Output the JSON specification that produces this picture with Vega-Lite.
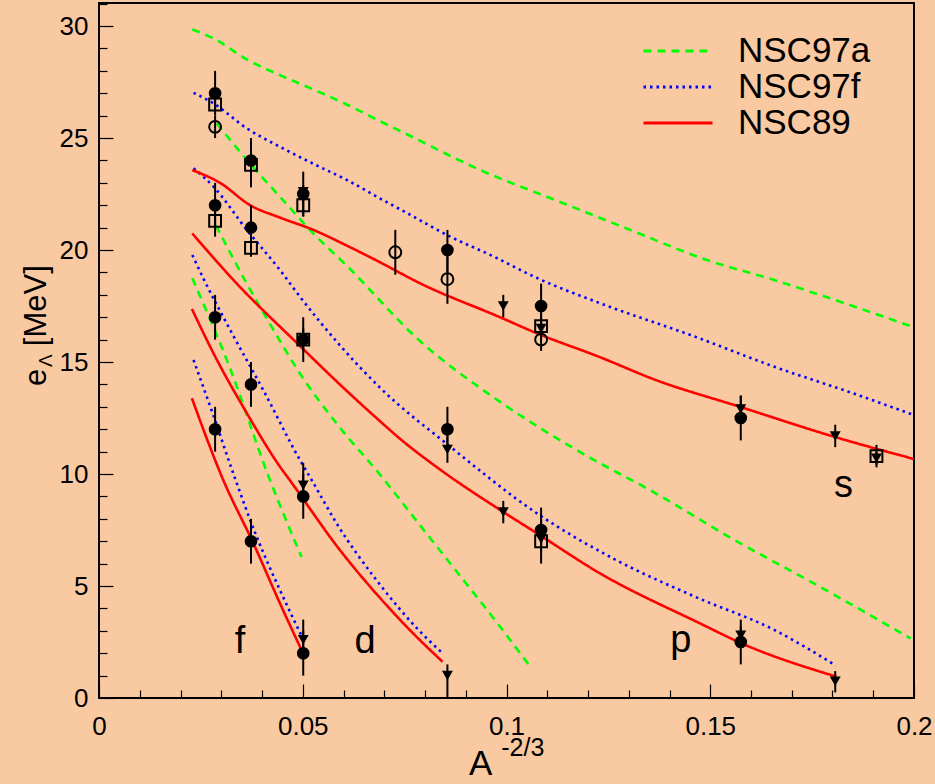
{
  "$schema": "https://vega.github.io/schema/vega-lite/v6.json",
  "width": 815,
  "height": 695,
  "autosize": {"type": "none"},
  "padding": {"left": 99, "top": 3, "right": 21, "bottom": 86},
  "background": "#F9C9A1",
  "config": {
    "view": {"stroke": "black", "strokeWidth": 2},
    "font": "Liberation Sans",
    "text": {"font": "Liberation Sans", "color": "black"}
  },
  "resolve": {"axis": {"x": "independent", "y": "independent"}, "scale": {"x": "shared", "y": "shared"}},
  "datasets": {
    "curves": [
      {"m":"NSC97a","c":"a-s","x":0.0229,"y":29.85},{"m":"NSC97a","c":"a-s","x":0.0281,"y":29.45},{"m":"NSC97a","c":"a-s","x":0.0363,"y":28.51},{"m":"NSC97a","c":"a-s","x":0.0444,"y":27.81},{"m":"NSC97a","c":"a-s","x":0.0526,"y":27.17},{"m":"NSC97a","c":"a-s","x":0.0608,"y":26.5},{"m":"NSC97a","c":"a-s","x":0.069,"y":25.75},{"m":"NSC97a","c":"a-s","x":0.0751,"y":25.21},{"m":"NSC97a","c":"a-s","x":0.0936,"y":23.57},{"m":"NSC97a","c":"a-s","x":0.112,"y":22.23},{"m":"NSC97a","c":"a-s","x":0.1305,"y":20.89},{"m":"NSC97a","c":"a-s","x":0.148,"y":19.63},{"m":"NSC97a","c":"a-s","x":0.1657,"y":18.66},{"m":"NSC97a","c":"a-s","x":0.2,"y":16.55},
      {"m":"NSC97a","c":"a-p","x":0.0289,"y":25.66},{"m":"NSC97a","c":"a-p","x":0.0363,"y":24.02},{"m":"NSC97a","c":"a-p","x":0.0444,"y":22.38},{"m":"NSC97a","c":"a-p","x":0.0526,"y":20.74},{"m":"NSC97a","c":"a-p","x":0.0608,"y":19.3},{"m":"NSC97a","c":"a-p","x":0.0784,"y":16.0},{"m":"NSC97a","c":"a-p","x":0.0978,"y":13.3},{"m":"NSC97a","c":"a-p","x":0.1172,"y":11.07},{"m":"NSC97a","c":"a-p","x":0.1366,"y":9.14},{"m":"NSC97a","c":"a-p","x":0.156,"y":7.05},{"m":"NSC97a","c":"a-p","x":0.1754,"y":5.12},{"m":"NSC97a","c":"a-p","x":0.1992,"y":2.66},
      {"m":"NSC97a","c":"a-d","x":0.0287,"y":21.1},{"m":"NSC97a","c":"a-d","x":0.0358,"y":18.66},{"m":"NSC97a","c":"a-d","x":0.0426,"y":16.5},{"m":"NSC97a","c":"a-d","x":0.0493,"y":14.49},{"m":"NSC97a","c":"a-d","x":0.059,"y":12.1},{"m":"NSC97a","c":"a-d","x":0.0687,"y":10.03},{"m":"NSC97a","c":"a-d","x":0.0784,"y":7.8},{"m":"NSC97a","c":"a-d","x":0.0881,"y":5.57},{"m":"NSC97a","c":"a-d","x":0.0978,"y":3.33},{"m":"NSC97a","c":"a-d","x":0.1061,"y":1.33},
      {"m":"NSC97a","c":"a-f","x":0.0229,"y":18.74},{"m":"NSC97a","c":"a-f","x":0.0322,"y":14.7},{"m":"NSC97a","c":"a-f","x":0.0416,"y":9.9},{"m":"NSC97a","c":"a-f","x":0.0497,"y":6.3},
      {"m":"NSC97f","c":"f-s","x":0.0232,"y":27.02},{"m":"NSC97f","c":"f-s","x":0.0281,"y":26.55},{"m":"NSC97f","c":"f-s","x":0.0363,"y":25.43},{"m":"NSC97f","c":"f-s","x":0.0444,"y":24.61},{"m":"NSC97f","c":"f-s","x":0.0526,"y":23.85},{"m":"NSC97f","c":"f-s","x":0.0608,"y":23.13},{"m":"NSC97f","c":"f-s","x":0.069,"y":22.3},{"m":"NSC97f","c":"f-s","x":0.0751,"y":21.7},{"m":"NSC97f","c":"f-s","x":0.0862,"y":20.6},{"m":"NSC97f","c":"f-s","x":0.0964,"y":19.75},{"m":"NSC97f","c":"f-s","x":0.1075,"y":18.75},{"m":"NSC97f","c":"f-s","x":0.1229,"y":17.63},{"m":"NSC97f","c":"f-s","x":0.1463,"y":16.13},{"m":"NSC97f","c":"f-s","x":0.1657,"y":14.79},{"m":"NSC97f","c":"f-s","x":0.1851,"y":13.6},{"m":"NSC97f","c":"f-s","x":0.2,"y":12.63},
      {"m":"NSC97f","c":"f-p","x":0.0232,"y":23.65},{"m":"NSC97f","c":"f-p","x":0.0281,"y":22.83},{"m":"NSC97f","c":"f-p","x":0.0363,"y":20.89},{"m":"NSC97f","c":"f-p","x":0.0444,"y":19.11},{"m":"NSC97f","c":"f-p","x":0.0493,"y":17.92},{"m":"NSC97f","c":"f-p","x":0.0687,"y":13.9},{"m":"NSC97f","c":"f-p","x":0.0862,"y":11.22},{"m":"NSC97f","c":"f-p","x":0.1075,"y":8.24},{"m":"NSC97f","c":"f-p","x":0.1269,"y":6.16},{"m":"NSC97f","c":"f-p","x":0.1463,"y":4.52},{"m":"NSC97f","c":"f-p","x":0.1657,"y":3.04},{"m":"NSC97f","c":"f-p","x":0.1808,"y":1.45},
      {"m":"NSC97f","c":"f-d","x":0.0229,"y":19.78},{"m":"NSC97f","c":"f-d","x":0.0256,"y":18.74},{"m":"NSC97f","c":"f-d","x":0.0322,"y":16.43},{"m":"NSC97f","c":"f-d","x":0.0403,"y":13.75},{"m":"NSC97f","c":"f-d","x":0.0493,"y":10.63},{"m":"NSC97f","c":"f-d","x":0.0522,"y":9.73},{"m":"NSC97f","c":"f-d","x":0.0583,"y":7.8},{"m":"NSC97f","c":"f-d","x":0.0687,"y":5.12},{"m":"NSC97f","c":"f-d","x":0.0784,"y":3.04},{"m":"NSC97f","c":"f-d","x":0.0843,"y":2.0},
      {"m":"NSC97f","c":"f-f","x":0.0232,"y":15.09},{"m":"NSC97f","c":"f-f","x":0.0281,"y":12.6},{"m":"NSC97f","c":"f-f","x":0.033,"y":10.0},{"m":"NSC97f","c":"f-f","x":0.0387,"y":7.2},{"m":"NSC97f","c":"f-f","x":0.0444,"y":4.82},{"m":"NSC97f","c":"f-f","x":0.0506,"y":2.44},
      {"m":"NSC89","c":"r-s","x":0.0229,"y":23.57},{"m":"NSC89","c":"r-s","x":0.0297,"y":23.0},{"m":"NSC89","c":"r-s","x":0.0371,"y":22.0},{"m":"NSC89","c":"r-s","x":0.0444,"y":21.45},{"m":"NSC89","c":"r-s","x":0.0526,"y":20.9},{"m":"NSC89","c":"r-s","x":0.0608,"y":20.2},{"m":"NSC89","c":"r-s","x":0.069,"y":19.45},{"m":"NSC89","c":"r-s","x":0.0784,"y":18.55},{"m":"NSC89","c":"r-s","x":0.0984,"y":17.0},{"m":"NSC89","c":"r-s","x":0.1075,"y":16.28},{"m":"NSC89","c":"r-s","x":0.1229,"y":15.22},{"m":"NSC89","c":"r-s","x":0.1366,"y":14.2},{"m":"NSC89","c":"r-s","x":0.1573,"y":13.0},{"m":"NSC89","c":"r-s","x":0.1803,"y":11.67},{"m":"NSC89","c":"r-s","x":0.2,"y":10.67},
      {"m":"NSC89","c":"r-p","x":0.0229,"y":20.74},{"m":"NSC89","c":"r-p","x":0.033,"y":18.66},{"m":"NSC89","c":"r-p","x":0.0493,"y":15.72},{"m":"NSC89","c":"r-p","x":0.0591,"y":14.0},{"m":"NSC89","c":"r-p","x":0.0687,"y":12.4},{"m":"NSC89","c":"r-p","x":0.0737,"y":11.6},{"m":"NSC89","c":"r-p","x":0.0837,"y":10.2},{"m":"NSC89","c":"r-p","x":0.0984,"y":8.4},{"m":"NSC89","c":"r-p","x":0.1075,"y":7.35},{"m":"NSC89","c":"r-p","x":0.1229,"y":5.57},{"m":"NSC89","c":"r-p","x":0.1475,"y":3.33},{"m":"NSC89","c":"r-p","x":0.1577,"y":2.44},{"m":"NSC89","c":"r-p","x":0.181,"y":0.95},
      {"m":"NSC89","c":"r-d","x":0.0228,"y":17.37},{"m":"NSC89","c":"r-d","x":0.0281,"y":15.39},{"m":"NSC89","c":"r-d","x":0.0363,"y":12.71},{"m":"NSC89","c":"r-d","x":0.0444,"y":10.33},{"m":"NSC89","c":"r-d","x":0.0468,"y":9.73},{"m":"NSC89","c":"r-d","x":0.0591,"y":6.61},{"m":"NSC89","c":"r-d","x":0.0687,"y":4.52},{"m":"NSC89","c":"r-d","x":0.0775,"y":2.81},{"m":"NSC89","c":"r-d","x":0.0843,"y":1.62},
      {"m":"NSC89","c":"r-f","x":0.0228,"y":13.38},{"m":"NSC89","c":"r-f","x":0.0305,"y":9.73},{"m":"NSC89","c":"r-f","x":0.0379,"y":6.9},{"m":"NSC89","c":"r-f","x":0.0444,"y":4.23},{"m":"NSC89","c":"r-f","x":0.0497,"y":2.14}
    ],
    "pts": [
      {"x":0.02849,"y":27.0,"t":"fc","lo":26.0,"hi":28.0},
      {"x":0.02849,"y":26.5,"t":"sq","lo":26.2,"hi":26.8},
      {"x":0.02849,"y":25.5,"t":"oc","lo":25.0,"hi":26.0},
      {"x":0.02849,"y":22.0,"t":"fc","lo":21.0,"hi":23.0},
      {"x":0.02849,"y":21.3,"t":"sq","lo":20.6,"hi":22.0},
      {"x":0.02849,"y":17.0,"t":"fc","lo":16.0,"hi":18.0},
      {"x":0.02849,"y":12.0,"t":"fc","lo":11.0,"hi":13.0},
      {"x":0.0373,"y":24.0,"t":"fc","lo":23.0,"hi":25.0},
      {"x":0.0373,"y":23.8,"t":"sq","lo":22.8,"hi":24.8},
      {"x":0.0373,"y":21.0,"t":"fc","lo":20.0,"hi":22.0},
      {"x":0.0373,"y":20.1,"t":"sq","lo":19.7,"hi":20.5},
      {"x":0.0373,"y":14.0,"t":"fc","lo":13.0,"hi":15.0},
      {"x":0.0373,"y":7.0,"t":"fc","lo":6.0,"hi":8.0},
      {"x":0.05012,"y":22.5,"t":"fc","lo":21.5,"hi":23.5},
      {"x":0.05012,"y":22.6,"t":"tr","lo":22.3,"hi":22.9},
      {"x":0.05012,"y":22.0,"t":"sq","lo":21.5,"hi":22.5},
      {"x":0.05012,"y":16.0,"t":"fc","lo":15.0,"hi":17.0},
      {"x":0.05012,"y":16.0,"t":"sq","lo":15.5,"hi":16.5},
      {"x":0.05012,"y":9.5,"t":"tr","lo":9.0,"hi":10.5},
      {"x":0.05012,"y":9.0,"t":"fc","lo":8.0,"hi":10.0},
      {"x":0.05012,"y":2.6,"t":"tr","lo":2.0,"hi":3.5},
      {"x":0.05012,"y":2.0,"t":"fc","lo":1.0,"hi":3.0},
      {"x":0.07271,"y":19.9,"t":"oc","lo":18.9,"hi":20.9},
      {"x":0.0855,"y":20.0,"t":"fc","lo":19.0,"hi":20.9},
      {"x":0.0855,"y":18.7,"t":"oc","lo":17.6,"hi":19.8},
      {"x":0.0855,"y":12.0,"t":"fc","lo":11.0,"hi":13.0},
      {"x":0.0855,"y":11.1,"t":"tr","lo":10.5,"hi":11.7},
      {"x":0.0855,"y":1.0,"t":"tr","lo":0.0,"hi":1.5},
      {"x":0.09921,"y":17.5,"t":"tr","lo":17.0,"hi":18.0},
      {"x":0.09921,"y":8.3,"t":"tr","lo":7.8,"hi":8.8},
      {"x":0.10849,"y":17.5,"t":"fc","lo":16.5,"hi":18.5},
      {"x":0.10849,"y":16.6,"t":"sq","lo":16.0,"hi":17.2},
      {"x":0.10849,"y":16.5,"t":"tr","lo":16.2,"hi":16.8},
      {"x":0.10849,"y":16.0,"t":"oc","lo":15.5,"hi":16.5},
      {"x":0.10849,"y":7.5,"t":"fc","lo":6.5,"hi":8.5},
      {"x":0.10849,"y":7.0,"t":"sq","lo":6.0,"hi":8.0},
      {"x":0.10849,"y":7.1,"t":"tr","lo":6.8,"hi":7.4},
      {"x":0.15749,"y":12.5,"t":"fc","lo":11.5,"hi":13.5},
      {"x":0.15749,"y":12.9,"t":"tr","lo":12.5,"hi":13.5},
      {"x":0.15749,"y":2.5,"t":"fc","lo":1.5,"hi":3.5},
      {"x":0.15749,"y":2.8,"t":"tr","lo":2.5,"hi":3.2},
      {"x":0.18067,"y":11.7,"t":"tr","lo":11.2,"hi":12.2},
      {"x":0.18067,"y":0.75,"t":"tr","lo":0.25,"hi":1.2},
      {"x":0.19079,"y":10.8,"t":"sq","lo":10.3,"hi":11.3},
      {"x":0.19079,"y":10.7,"t":"tr","lo":10.4,"hi":11.0}
    ]
  },
  "layer": [
    {
      "data": {"name": "curves"},
      "mark": {"type": "line", "strokeWidth": 2.6, "interpolate": "monotone"},
      "encoding": {
        "x": {"field": "x", "type": "quantitative", "scale": {"domain": [0, 0.2], "nice": false, "zero": false},
          "axis": {"title": null, "domain": false, "grid": false, "orient": "bottom",
            "values": [0, 0.05, 0.1, 0.15, 0.2], "format": "~g",
            "labelFont": "Liberation Sans", "labelFontSize": 26, "labelColor": "black", "labelPadding": 29,
            "labelFlush": false, "labelOverlap": false, "tickColor": "black", "tickWidth": 1.2, "tickSize": -14}},
        "y": {"field": "y", "type": "quantitative", "scale": {"domain": [0, 31.03], "nice": false},
          "axis": {"title": null, "domain": false, "grid": false, "orient": "left",
            "values": [0, 5, 10, 15, 20, 25, 30], "format": "d",
            "labelFont": "Liberation Sans", "labelFontSize": 26, "labelColor": "black", "labelPadding": 25,
            "labelOverlap": false, "labelFlush": false, "tickColor": "black", "tickWidth": 1.2, "tickSize": -14}},
        "color": {"field": "m", "type": "nominal",
          "scale": {"domain": ["NSC97a", "NSC97f", "NSC89"], "range": ["#00ff00", "#0000ff", "#ff0000"]},
          "legend": {"title": null, "orient": "none", "legendX": 543, "legendY": 30, "symbolType": "stroke",
            "symbolSize": 4761, "symbolStrokeWidth": 3, "labelFont": "Liberation Sans", "labelFontSize": 35,
            "labelColor": "black", "labelOffset": 24, "rowPadding": 0, "padding": 0, "labelLimit": 400,
            "symbolOffset": 0, "clipHeight": 36}},
        "strokeDash": {"field": "m", "type": "nominal",
          "scale": {"domain": ["NSC97a", "NSC97f", "NSC89"], "range": [[8, 6], [2.5, 4], [1, 0]]},
          "legend": {"title": null}},
        "detail": {"field": "c"}
      }
    },
    {
      "data": {"name": "pts"},
      "mark": {"type": "rule", "color": "black", "strokeWidth": 2},
      "encoding": {
        "x": {"field": "x", "type": "quantitative",
          "axis": {"title": null, "domain": false, "grid": false, "orient": "bottom", "labels": false,
            "values": [0.01,0.02,0.03,0.04,0.06,0.07,0.08,0.09,0.11,0.12,0.13,0.14,0.16,0.17,0.18,0.19],
            "tickColor": "black", "tickWidth": 1.2, "tickSize": -8}},
        "y": {"field": "lo", "type": "quantitative",
          "axis": {"title": null, "domain": false, "grid": false, "orient": "left", "labels": false,
            "values": [1,2,3,4,6,7,8,9,11,12,13,14,16,17,18,19,21,22,23,24,26,27,28,29,31],
            "tickColor": "black", "tickWidth": 1.2, "tickSize": -8}},
        "y2": {"field": "hi"}
      }
    },
    {
      "data": {"name": "pts"},
      "transform": [{"filter": "datum.t == 'fc'"}],
      "mark": {"type": "point", "shape": "circle", "filled": true, "color": "black", "size": 160, "opacity": 1},
      "encoding": {"x": {"field": "x", "type": "quantitative", "axis": null}, "y": {"field": "y", "type": "quantitative", "axis": null}}
    },
    {
      "data": {"name": "pts"},
      "transform": [{"filter": "datum.t == 'sq'"}],
      "mark": {"type": "point", "shape": "square", "filled": false, "color": "black", "strokeWidth": 2, "size": 140, "opacity": 1},
      "encoding": {"x": {"field": "x", "type": "quantitative", "axis": null}, "y": {"field": "y", "type": "quantitative", "axis": null}}
    },
    {
      "data": {"name": "pts"},
      "transform": [{"filter": "datum.t == 'oc'"}],
      "mark": {"type": "point", "shape": "circle", "filled": false, "color": "black", "strokeWidth": 2, "size": 140, "opacity": 1},
      "encoding": {"x": {"field": "x", "type": "quantitative", "axis": null}, "y": {"field": "y", "type": "quantitative", "axis": null}}
    },
    {
      "data": {"name": "pts"},
      "transform": [{"filter": "datum.t == 'tr'"}],
      "mark": {"type": "point", "shape": "triangle-down", "filled": true, "color": "black", "size": 120, "opacity": 1},
      "encoding": {"x": {"field": "x", "type": "quantitative", "axis": null}, "y": {"field": "y", "type": "quantitative", "axis": null}}
    },
    {
      "data": {"values": [{"x": 0.0346, "y": 2.0, "t": "f"}, {"x": 0.0653, "y": 2.0, "t": "d"}, {"x": 0.1428, "y": 2.05, "t": "p"}, {"x": 0.1827, "y": 8.97, "t": "s"}]},
      "mark": {"type": "text", "fontSize": 38, "align": "center", "baseline": "alphabetic", "color": "black", "font": "Liberation Sans"},
      "encoding": {"x": {"field": "x", "type": "quantitative", "axis": null}, "y": {"field": "y", "type": "quantitative", "axis": null}, "text": {"field": "t"}}
    },
    {
      "data": {"values": [{"x": 0.0908, "y": -3.45, "t": "A"}]},
      "mark": {"type": "text", "fontSize": 35, "align": "left", "baseline": "alphabetic", "color": "black", "font": "Liberation Sans"},
      "encoding": {"x": {"field": "x", "type": "quantitative", "axis": null}, "y": {"field": "y", "type": "quantitative", "axis": null}, "text": {"field": "t"}}
    },
    {
      "data": {"values": [{"x": 0.0987, "y": -2.6, "t": "-2/3"}]},
      "mark": {"type": "text", "fontSize": 25, "align": "left", "baseline": "alphabetic", "color": "black", "font": "Liberation Sans"},
      "encoding": {"x": {"field": "x", "type": "quantitative", "axis": null}, "y": {"field": "y", "type": "quantitative", "axis": null}, "text": {"field": "t"}}
    },
    {
      "data": {"values": [{"x": -0.0131, "y": 13.93, "t": "e"}, {"x": -0.0131, "y": 15.71, "t": "[MeV]"}]},
      "mark": {"type": "text", "fontSize": 31, "angle": 270, "align": "left", "baseline": "alphabetic", "color": "black", "font": "Liberation Sans"},
      "encoding": {"x": {"field": "x", "type": "quantitative", "axis": null}, "y": {"field": "y", "type": "quantitative", "axis": null}, "text": {"field": "t"}}
    },
    {
      "data": {"values": [{"x": -0.0115, "y": 14.78, "t": "Λ"}]},
      "mark": {"type": "text", "fontSize": 19, "angle": 270, "align": "left", "baseline": "alphabetic", "color": "black", "font": "Liberation Sans"},
      "encoding": {"x": {"field": "x", "type": "quantitative", "axis": null}, "y": {"field": "y", "type": "quantitative", "axis": null}, "text": {"field": "t"}}
    }
  ]
}
